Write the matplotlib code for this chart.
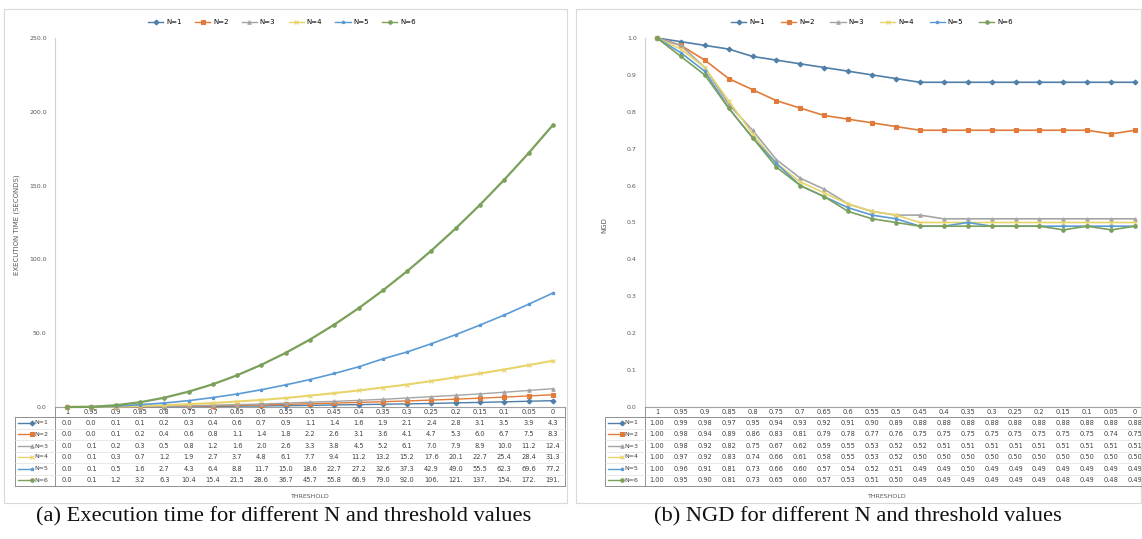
import matplotlib
matplotlib.use("Agg")
import matplotlib.pyplot as plt
import matplotlib.transforms as mtransforms
from matplotlib.patches import Rectangle
from matplotlib.lines import Line2D

thresholds = ['1', '0.95', '0.9', '0.85', '0.8', '0.75', '0.7', '0.65', '0.6', '0.55', '0.5',
              '0.45', '0.4', '0.35', '0.3', '0.25', '0.2', '0.15', '0.1', '0.05', '0']
series_names = ['N=1', 'N=2', 'N=3', 'N=4', 'N=5', 'N=6']

time_n1 = [0.0, 0.0, 0.1, 0.1, 0.2, 0.3, 0.4, 0.6, 0.7, 0.9, 1.1, 1.4, 1.6, 1.9, 2.1, 2.4, 2.8, 3.1, 3.5, 3.9, 4.3]
time_n2 = [0.0, 0.0, 0.1, 0.2, 0.4, 0.6, 0.8, 1.1, 1.4, 1.8, 2.2, 2.6, 3.1, 3.6, 4.1, 4.7, 5.3, 6.0, 6.7, 7.5, 8.3]
time_n3 = [0.0, 0.1, 0.2, 0.3, 0.5, 0.8, 1.2, 1.6, 2.0, 2.6, 3.3, 3.8, 4.5, 5.2, 6.1, 7.0, 7.9, 8.9, 10.0, 11.2, 12.4]
time_n4 = [0.0, 0.1, 0.3, 0.7, 1.2, 1.9, 2.7, 3.7, 4.8, 6.1, 7.7, 9.4, 11.2, 13.2, 15.2, 17.6, 20.1, 22.7, 25.4, 28.4, 31.3]
time_n5 = [0.0, 0.1, 0.5, 1.6, 2.7, 4.3, 6.4, 8.8, 11.7, 15.0, 18.6, 22.7, 27.2, 32.6, 37.3, 42.9, 49.0, 55.5, 62.3, 69.6, 77.2]
time_n6 = [0.0, 0.1, 1.2, 3.2, 6.3, 10.4, 15.4, 21.5, 28.6, 36.7, 45.7, 55.8, 66.9, 79.0, 92.0, 106, 121, 137, 154, 172, 191]

ngd_n1 = [1.00, 0.99, 0.98, 0.97, 0.95, 0.94, 0.93, 0.92, 0.91, 0.90, 0.89, 0.88, 0.88, 0.88, 0.88, 0.88, 0.88, 0.88, 0.88, 0.88, 0.88]
ngd_n2 = [1.00, 0.98, 0.94, 0.89, 0.86, 0.83, 0.81, 0.79, 0.78, 0.77, 0.76, 0.75, 0.75, 0.75, 0.75, 0.75, 0.75, 0.75, 0.75, 0.74, 0.75]
ngd_n3 = [1.00, 0.98, 0.92, 0.82, 0.75, 0.67, 0.62, 0.59, 0.55, 0.53, 0.52, 0.52, 0.51, 0.51, 0.51, 0.51, 0.51, 0.51, 0.51, 0.51, 0.51]
ngd_n4 = [1.00, 0.97, 0.92, 0.83, 0.74, 0.66, 0.61, 0.58, 0.55, 0.53, 0.52, 0.50, 0.50, 0.50, 0.50, 0.50, 0.50, 0.50, 0.50, 0.50, 0.50]
ngd_n5 = [1.00, 0.96, 0.91, 0.81, 0.73, 0.66, 0.60, 0.57, 0.54, 0.52, 0.51, 0.49, 0.49, 0.50, 0.49, 0.49, 0.49, 0.49, 0.49, 0.49, 0.49]
ngd_n6 = [1.00, 0.95, 0.90, 0.81, 0.73, 0.65, 0.60, 0.57, 0.53, 0.51, 0.50, 0.49, 0.49, 0.49, 0.49, 0.49, 0.49, 0.48, 0.49, 0.48, 0.49]

time_series = [time_n1, time_n2, time_n3, time_n4, time_n5, time_n6]
ngd_series = [ngd_n1, ngd_n2, ngd_n3, ngd_n4, ngd_n5, ngd_n6]

colors = ['#4f7fa8', '#e07b39', '#a5a5a5', '#e8d46a', '#5b9bd5', '#7aa05a']
markers = ['D', 's', '^', 'x', '*', 'o']

W, H = 1142, 539
fig = plt.figure(figsize=(W / 100, H / 100), dpi=100)


def add_axes(l, t, r, b):
    return fig.add_axes([l / W, 1 - b / H, (r - l) / W, (b - t) / H])


def py(p):
    return 1 - p / H


def fmt_time(v):
    return f"{v:.0f}." if v >= 100 else f"{v:.1f}"


def fmt_ngd(v):
    return f"{v:.2f}"


# panel borders
for (l, r) in [(4, 567), (576, 1141)]:
    fig.patches.append(Rectangle((l / W, py(503)), (r - l) / W, (503 - 9) / H,
                                 transform=fig.transFigure, fill=False,
                                 edgecolor='#d9d9d9', lw=0.8))


def make_panel(l, r, series, ylim, yticks, yfmt, ylabel, valfmt, legend_x, ylabel_x, lw_list, colsp):
    ax = add_axes(l, 38, r, 407)
    x = list(range(len(thresholds)))
    for i, (name, vals) in enumerate(zip(series_names, series)):
        ax.plot(x, vals, color=colors[i], lw=lw_list[i], marker=markers[i], ms=2.5,
                mew=0.8, label=name, clip_on=False, zorder=3 + i)
    ax.set_xlim(-0.5, len(thresholds) - 0.5)
    ax.set_ylim(*ylim)
    ax.set_yticks(yticks)
    ax.set_yticklabels([yfmt(t) for t in yticks], fontsize=4.5, color='#595959')
    ax.set_xticks([])
    ax.tick_params(axis='y', length=0, pad=6)
    for s in ['top', 'right']:
        ax.spines[s].set_visible(False)
    ax.spines['left'].set_color('#d0d0d0')
    ax.spines['bottom'].set_color('#a0a0a0')
    ax.spines['left'].set_linewidth(0.8)
    ax.spines['bottom'].set_linewidth(0.8)
    fig.text(ylabel_x / W, py(225), ylabel, rotation=90, fontsize=5, color='#595959',
             ha='center', va='center')

    # data table
    tr = mtransforms.blended_transform_factory(ax.transData, fig.transFigure)
    row_y = [423, 434, 446, 457, 469, 480]
    for j, t in enumerate(thresholds):
        ax.text(j, py(412), t, transform=tr, fontsize=4.8, ha='center', va='center',
                color='#404040', clip_on=False)
    for i, vals in enumerate(series):
        for j, v in enumerate(vals):
            ax.text(j, py(row_y[i]), valfmt(v), transform=tr, fontsize=4.8, ha='center',
                    va='center', color='#404040', clip_on=False)
    # table lines
    tl = l - 40
    line_kw = dict(transform=fig.transFigure, color='#909090', lw=0.7)
    fig.lines.append(Line2D([l / W, l / W], [py(407), py(486)], **line_kw))
    fig.lines.append(Line2D([tl / W, r / W], [py(417), py(417)], **line_kw))
    fig.lines.append(Line2D([tl / W, r / W], [py(486), py(486)], **line_kw))
    fig.lines.append(Line2D([tl / W, tl / W], [py(417), py(486)], **line_kw))
    fig.lines.append(Line2D([r / W, r / W], [py(407), py(486)], **line_kw))
    for k in range(1, 6):
        yy = (row_y[k - 1] + row_y[k]) / 2
        fig.lines.append(Line2D([tl / W, r / W], [py(yy), py(yy)], transform=fig.transFigure,
                                color='#e0e0e0', lw=0.5))
    for i, name in enumerate(series_names):
        yy = py(row_y[i])
        fig.lines.append(Line2D([(tl + 3) / W, (tl + 17) / W], [yy, yy], transform=fig.transFigure,
                                color=colors[i], lw=1.0, marker=markers[i], ms=2.5,
                                markevery=[1], mew=0.8))
        fig.text((tl + 19) / W, yy, name, fontsize=4.5, color='#404040', ha='left', va='center')
    fig.text((l + r) / 2 / W if r < W else (l + 1130) / 2 / W, py(496), 'THRESHOLD',
             fontsize=4.5, color='#595959', ha='center', va='center')

    handles = [Line2D([], [], color=colors[i], lw=1.0, marker=markers[i], ms=2.5, mew=0.8)
               for i in range(6)]
    fig.legend(handles, series_names, loc='center', bbox_to_anchor=(legend_x / W, py(22)),
               ncol=6, frameon=False, fontsize=5, handlelength=2.2, columnspacing=colsp,
               handletextpad=0.4)
    return ax


make_panel(55, 565, time_series, (0, 250), [0, 50, 100, 150, 200, 250],
           lambda t: f"{t:.1f}", 'EXECUTION TIME (SECONDS)', fmt_time, 282, 17,
           [1.0, 1.0, 1.0, 1.5, 1.2, 1.6], 1.9)
make_panel(645, 1147, ngd_series, (0, 1.0), [i / 10 for i in range(11)],
           lambda t: f"{t:.1f}", 'NGD', fmt_ngd, 872, 604,
           [1.2, 1.2, 1.2, 1.2, 1.2, 1.2], 2.3)

fig.text(284 / W, py(517), '(a) Execution time for different N and threshold values',
         family='Liberation Serif', fontsize=16.2, ha='center', va='center', color='#111111')
fig.text(858 / W, py(517), '(b) NGD for different N and threshold values',
         family='Liberation Serif', fontsize=16.2, ha='center', va='center', color='#111111')

fig.savefig('out.png', dpi=100)
